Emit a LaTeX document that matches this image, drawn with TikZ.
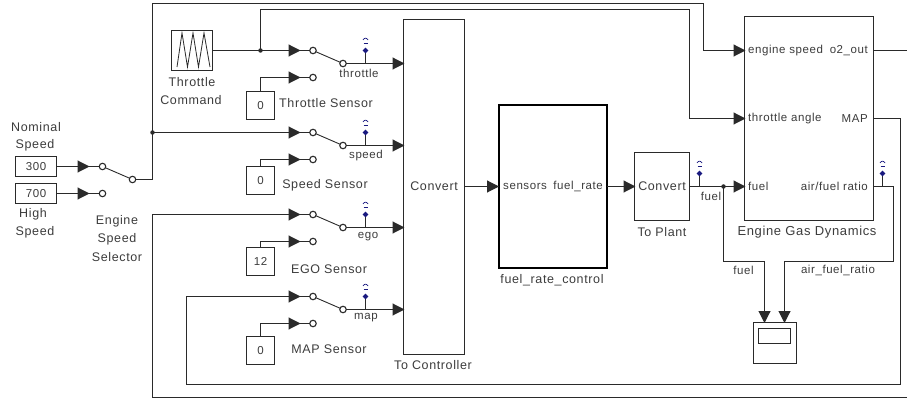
\documentclass[tikz,border=0pt]{standalone}
\usepackage{fontspec}
\setmainfont[LetterSpace=5]{Liberation Sans}
\usetikzlibrary{arrows.meta,shapes.geometric}
\definecolor{ink}{HTML}{2A2A2A}
\definecolor{txt}{HTML}{3C3C3C}
\definecolor{probe}{HTML}{1A1A80}
\tikzset{
  x=1pt,y=-1pt,
  wire/.style={draw=ink,line width=1.1pt},
  awire/.style={wire,-{Triangle[length=12pt,width=12pt]},shorten >=-0.5pt},
  blockbox/.style={draw=ink,line width=1.1pt,fill=white,inner sep=0pt,outer sep=0pt,minimum width=0pt,font=\fontsize{11.5}{13}\selectfont,text=txt},
  contact/.style={circle,draw=ink,line width=1.1pt,fill=white,inner sep=0pt,minimum size=6.5pt,outer sep=0pt},
  lbl/.style={font=\fontsize{12.5}{14}\selectfont,text=txt,inner sep=0pt,align=center},
  plbl/.style={font=\fontsize{11.5}{13}\selectfont,text=txt,inner sep=0pt,align=center},
  slbl/.style={font=\fontsize{11.5}{13}\selectfont,text=txt,inner sep=0pt,align=center},
  junction/.style={circle,fill=ink,inner sep=0pt,minimum size=4.5pt},
  probedot/.style={diamond,aspect=1,fill=probe,inner sep=0pt,minimum size=6pt},
  probearc/.style={draw=probe,line width=0.7pt}
}
\newcommand{\probeicon}[2]{% x, y of icon centre
  \draw[probearc] (#1-2.5,#2-1) .. controls (#1-1,#2-3.5) and (#1+1,#2-3.5) .. (#1+2.5,#2-1);
  \draw[probearc] (#1-2,#2+2.5) -- (#1+2,#2+2.5);}
\begin{document}
\begin{tikzpicture}
\useasboundingbox (0,0) rectangle (907,403);
% constants
\node[blockbox,minimum width=41pt,minimum height=20pt] (c300) at (36,166.5) {300};
\node[blockbox,minimum width=41pt,minimum height=20pt] (c700) at (36,193.5) {700};
\node[blockbox,minimum width=28pt,minimum height=28pt] (k1) at (260.5,105.5) {0};
\node[blockbox,minimum width=28pt,minimum height=28pt] (k2) at (260.5,180.5) {0};
\node[blockbox,minimum width=28pt,minimum height=28pt] (k3) at (260.5,261.5) {12};
\node[blockbox,minimum width=28pt,minimum height=28pt] (k4) at (260.5,350.5) {0};
% throttle command
\node[blockbox,minimum width=41pt,minimum height=40pt] (tc) at (192,50.5) {};
\draw[ink,line width=0.8pt] (177,67) -- (182,33) -- (187.5,67) -- (193,33) -- (198.5,67) -- (204,33) -- (210,67);
% big blocks
\node[blockbox,minimum width=61pt,minimum height=335pt,anchor=north west] (toctl) at (403.5,19.5) {};
\node[lbl,anchor=east] at (458,186.5) {Convert};
\node[blockbox,draw=black,line width=2.2pt,minimum width=108pt,minimum height=163pt,anchor=north west] (frc) at (499,105) {};
\node[plbl,anchor=west] at (503,186.5) {sensors};
\node[plbl,anchor=east] at (603,186.5) {fuel\_rate};
\node[blockbox,minimum width=55pt,minimum height=68pt,anchor=north west] (toplant) at (634.5,152.5) {};
\node[lbl,anchor=center] at (662,186.5) {Convert};
\node[blockbox,minimum width=129pt,minimum height=204pt,anchor=north west] (egd) at (744.5,16.5) {};
\node[plbl,anchor=west] at (748,50.5) {engine speed};
\node[plbl,anchor=west] at (748,118.5) {throttle angle};
\node[plbl,anchor=west] at (748,186.5) {fuel};
\node[plbl,anchor=east] at (868,50.5) {o2\_out};
\node[plbl,anchor=east] at (868,118.5) {MAP};
\node[plbl,anchor=east] at (868,186.5) {air/fuel ratio};
\node[blockbox,minimum width=43pt,minimum height=41pt,anchor=north west] (scope) at (753.5,322.5) {};
\node[blockbox,minimum width=32pt,minimum height=15pt,anchor=north west] (scopein) at (758.5,328.5) {};
% engine speed selector
\node[contact] (s0a) at (102.5,166.5) {};
\node[contact] (s0b) at (102.5,193.5) {};
\node[contact] (s0o) at (132.5,179.5) {};
\draw[wire,line width=0.9pt] (s0a) -- (s0o);
\coordinate (t0a) at (89,166.5); \coordinate (t0b) at (89,193.5);
\draw[awire] (c300) -- (t0a); \draw[wire] (t0a) -- (s0a);
\draw[awire] (c700) -- (t0b); \draw[wire] (t0b) -- (s0b);
% sensor switches: name, top y
\foreach \n/\y in {1/50.5,2/132.5,3/214.5,4/296.5}{
  \pgfmathsetmacro{\yb}{\y+27}
  \pgfmathsetmacro{\yo}{\y+13}
  \pgfmathsetmacro{\yp}{\y+13-13}
  \pgfmathsetmacro{\yi}{\y+13-22.5}
  \node[contact] (sw\n a) at (313,\y) {};
  \node[contact] (sw\n b) at (313,\yb) {};
  \node[contact] (sw\n o) at (343,\yo) {};
  \coordinate (ta\n) at (300,\y);
  \coordinate (tb\n) at (300,\yb);
  \coordinate (to\n) at (404,\yo);
  \coordinate (tap\n) at (365.5,\yo);
  \coordinate (pr\n) at (365.5,\yp);
  \draw[wire,line width=0.9pt] (sw\n a) -- (sw\n o);
  \draw[wire] (ta\n) -- (sw\n a);
  \draw[wire] (tb\n) -- (sw\n b);
  \draw[awire] (sw\n o) -- (to\n);
  \draw[draw=ink,line width=0.9pt] (tap\n) -- (pr\n);
  \node[probedot] (pd\n) at (pr\n) {};
  \probeicon{365.5}{\yi}
  \draw[awire] (k\n) |- (tb\n);
}
% tap labels
\node[slbl] (l1) at (359,73) {throttle};
\node[slbl] (l2) at (366,156) {speed};
\node[slbl] (l3) at (368,237) {ego};
\node[slbl] (l4) at (366,318) {map};
% throttle wires
\coordinate (j1) at (260.5,50.5);
\draw[awire] (tc) -- (ta1);
\node[junction] at (j1) {};
\coordinate (th1) at (260.5,9.5);
\coordinate (th2) at (689.5,9.5);
\coordinate (th3) at (689.5,118.5);
\coordinate (etp) at (745,118.5);
\draw[awire] (j1) -- (th1) -- (th2) -- (th3) -- (etp);
% engine speed wires
\coordinate (es0) at (152.5,179.5);
\coordinate (es1) at (152.5,3.5);
\coordinate (es2) at (703.5,3.5);
\coordinate (es3) at (703.5,50.5);
\coordinate (esp) at (745,50.5);
\coordinate (j2) at (152.5,132.5);
\draw[awire] (s0o) -- (es0) -- (es1) -- (es2) -- (es3) -- (esp);
\draw[awire] (j2) -- (ta2);
\node[junction] at (j2) {};
% controller to fuel_rate_control
\coordinate (frcin) at (498.5,186.5);
\coordinate (ctlout) at (464.5,186.5);
\coordinate (frcout) at (607,186.5);
\coordinate (tpin) at (635,186.5);
\draw[awire] (ctlout) -- (frcin);
\draw[awire] (frcout) -- (tpin);
% to plant to engine
\coordinate (tpout) at (689.5,186.5);
\coordinate (efu) at (745,186.5);
\coordinate (j3) at (723.5,186.5);
\draw[awire] (tpout) -- (efu);
\node[junction] at (j3) {};
\coordinate (f1) at (723.5,261.5);
\coordinate (f2) at (764.5,261.5);
\coordinate (f3) at (764.5,322.5);
\draw[awire] (j3) -- (f1) -- (f2) -- (f3);
% air fuel
\coordinate (a0) at (873.5,186.5);
\coordinate (a1) at (893.5,186.5);
\coordinate (a2) at (893.5,261.5);
\coordinate (a3) at (784.5,261.5);
\coordinate (a4) at (784.5,322.5);
\draw[awire] (a0) -- (a1) -- (a2) -- (a3) -- (a4);
% MAP feedback
\coordinate (m0) at (873.5,118.5);
\coordinate (m1) at (900.5,118.5);
\coordinate (m2) at (900.5,384.5);
\coordinate (m3) at (186.5,384.5);
\coordinate (m4) at (186.5,296.5);
\draw[awire] (m0) -- (m1) -- (m2) -- (m3) -- (m4) -- (ta4);
% o2 feedback
\coordinate (o0) at (873.5,50.5);
\coordinate (o1) at (907,50.5);
\draw[wire] (o0) -- (o1);
\coordinate (o2) at (907,397.5);
\coordinate (o3) at (152.5,397.5);
\coordinate (o4) at (152.5,214.5);
\draw[awire] (o2) -- (o3) -- (o4) -- (ta3);
% probes on plant side
\coordinate (tap5) at (699.5,186.5); \coordinate (pr5) at (699.5,173.5);
\draw[draw=ink,line width=0.9pt] (tap5) -- (pr5);
\node[probedot] at (pr5) {}; \probeicon{699.5}{164}
\coordinate (tap6) at (882.5,186.5); \coordinate (pr6) at (882.5,173.5);
\draw[draw=ink,line width=0.9pt] (tap6) -- (pr6);
\node[probedot] at (pr6) {}; \probeicon{882.5}{164}
% labels
\node[lbl] at (36,127) {Nominal};
\node[lbl] at (35,145) {Speed};
\node[lbl] at (33,214) {High};
\node[lbl] at (35,232) {Speed};
\node[lbl] at (117,221) {Engine};
\node[lbl] at (117,239) {Speed};
\node[lbl] at (117,257) {Selector};
\node[lbl] at (192,82) {Throttle};
\node[lbl] at (191,100) {Command};
\node[lbl] at (326,103) {Throttle Sensor};
\node[lbl] at (325,185) {Speed Sensor};
\node[lbl] at (329,269) {EGO Sensor};
\node[lbl] at (329,349) {MAP Sensor};
\node[lbl] at (433,365) {To Controller};
\node[lbl] at (662,232) {To Plant};
\node[font=\fontsize{13}{15}\selectfont,text=txt,inner sep=0pt] at (807,232) {Engine Gas Dynamics};
\node[lbl] at (552,280) {fuel\_rate\_control};
\node[slbl] at (711,196) {fuel};
\node[slbl] at (743.5,270) {fuel};
\node[slbl] at (838,270) {air\_fuel\_ratio};
\end{tikzpicture}
\end{document}
